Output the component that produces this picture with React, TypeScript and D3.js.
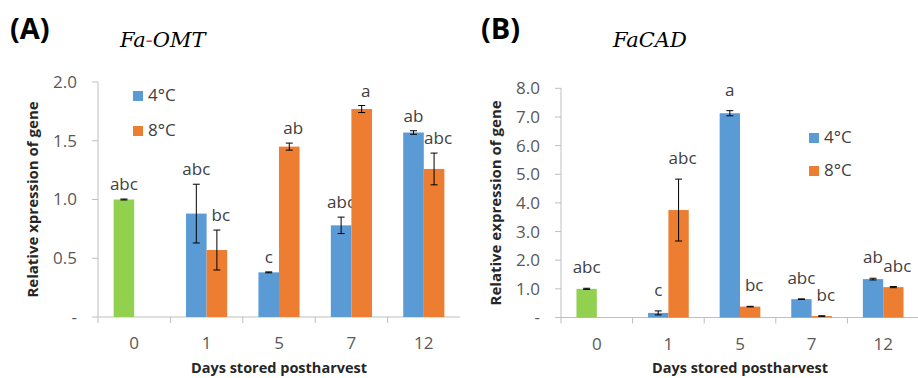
import React, { useEffect, useRef } from "react";
import * as d3 from "d3";

// categories
const days = ["0", "1", "5", "7", "12"];
const seriesNames = ["4°C", "8°C"];

// (A) Fa-OMT
const omtControl = [1.0, null, null, null, null];
const omtControlErr = [0.004, null, null, null, null];
const omt4 = [null, 0.88, 0.38, 0.78, 1.57];
const omt4Err = [null, 0.25, 0.004, 0.07, 0.015];
const omt8 = [null, 0.57, 1.45, 1.77, 1.26];
const omt8Err = [null, 0.17, 0.03, 0.03, 0.135];
const omtControlLetters = ["abc", "", "", "", ""];
const omt4Letters = ["", "abc", "c", "abc", "ab"];
const omt8Letters = ["", "bc", "ab", "a", "abc"];
const omtTicks = [0, 0.5, 1.0, 1.5, 2.0];

// (B) FaCAD
const cadControl = [1.0, null, null, null, null];
const cadControlErr = [0.02, null, null, null, null];
const cad4 = [null, 0.16, 7.13, 0.64, 1.34];
const cad4Err = [null, 0.07, 0.09, 0.01, 0.03];
const cad8 = [null, 3.75, 0.38, 0.05, 1.06];
const cad8Err = [null, 1.08, 0.01, 0.01, 0.02];
const cadControlLetters = ["abc", "", "", "", ""];
const cad4Letters = ["", "c", "a", "abc", "ab"];
const cad8Letters = ["", "abc", "bc", "bc", "abc"];
const cadTicks = [0, 1, 2, 3, 4, 5, 6, 7, 8];

const BLUE = "#5B9BD5";
const ORANGE = "#ED7D31";
const GREEN = "#92D050";
const AXIS = "#BFBFBF";
const TXT = "#404040";
const FONT = "'Open Sans', sans-serif";

const App: React.FC = () => {
  const ref = useRef<SVGSVGElement | null>(null);

  useEffect(() => {
    const svg = d3.select(ref.current);
    svg.selectAll("*").remove();

    const drawPanel = (p: any) => {
      const g = svg.append("g");

      const x = d3.scaleBand().domain(days).range([p.x0, p.x1]).paddingInner(0).paddingOuter(0);
      const sub = d3.scaleBand().domain(seriesNames).range([0, x.bandwidth()]).paddingInner(0).paddingOuter(0.76);
      const y = d3.scaleLinear().domain([0, p.max]).range([p.y0, p.y1]);

      // y axis
      g.append("line")
        .attr("x1", p.x0).attr("x2", p.x0)
        .attr("y1", y(0)).attr("y2", y(p.max))
        .attr("stroke", AXIS).attr("stroke-width", 1);
      p.ticks.forEach((t: number) => {
        g.append("line")
          .attr("x1", p.x0 - 6).attr("x2", p.x0)
          .attr("y1", y(t)).attr("y2", y(t))
          .attr("stroke", AXIS);
        g.append("text")
          .attr("x", p.x0 - 21).attr("y", y(t))
          .attr("dy", "0.35em")
          .attr("text-anchor", "end")
          .attr("font-family", FONT).attr("font-size", 17)
          .attr("fill", "#595959")
          .text(t === 0 ? "-" : d3.format(".1f")(t));
      });

      // x axis
      g.append("line")
        .attr("x1", p.x0).attr("x2", p.x1)
        .attr("y1", y(0)).attr("y2", y(0))
        .attr("stroke", AXIS);
      days.forEach((d) => {
        const bx = x(d) as number;
        g.append("line")
          .attr("x1", bx).attr("x2", bx)
          .attr("y1", y(0)).attr("y2", y(0) + 6)
          .attr("stroke", AXIS);
        g.append("text")
          .attr("x", bx + x.bandwidth() / 2).attr("y", y(0) + 32)
          .attr("text-anchor", "middle")
          .attr("font-family", FONT).attr("font-size", 17)
          .attr("fill", "#595959")
          .text(d);
      });

      // bars + error bars + letters
      const series = [
        { key: "4°C", vals: p.control, errs: p.controlErr, letters: p.controlLetters, color: GREEN, nudge: 0 },
        { key: "4°C", vals: p.s4, errs: p.s4Err, letters: p.s4Letters, color: BLUE, nudge: 0 },
        { key: "8°C", vals: p.s8, errs: p.s8Err, letters: p.s8Letters, color: ORANGE, nudge: 4 },
      ];
      series.forEach((s) => {
        days.forEach((d, i) => {
          const v = s.vals[i];
          if (v == null) return;
          const bx = (x(d) as number) + (sub(s.key) as number);
          const bw = sub.bandwidth();
          g.append("rect")
            .attr("x", bx).attr("y", y(v))
            .attr("width", bw).attr("height", y(0) - y(v))
            .attr("fill", s.color);
          const e = s.errs[i] || 0;
          const cx = bx + bw / 2;
          g.append("line")
            .attr("x1", cx).attr("x2", cx)
            .attr("y1", y(v + e)).attr("y2", y(Math.max(0, v - e)))
            .attr("stroke", "#000").attr("stroke-width", 1);
          [v + e, Math.max(0, v - e)].forEach((ev) => {
            g.append("line")
              .attr("x1", cx - 3.5).attr("x2", cx + 3.5)
              .attr("y1", y(ev)).attr("y2", y(ev))
              .attr("stroke", "#000").attr("stroke-width", 1);
          });
          if (s.letters[i]) {
            g.append("text")
              .attr("x", cx + s.nudge).attr("y", y(v + e) - p.gap)
              .attr("text-anchor", "middle")
              .attr("font-family", FONT).attr("font-size", 17)
              .attr("fill", TXT)
              .text(s.letters[i]);
          }
        });
      });

      // legend
      [BLUE, ORANGE].forEach((c, i) => {
        g.append("rect")
          .attr("x", p.legX).attr("y", p.legY + i * p.legGap)
          .attr("width", 10).attr("height", 10)
          .attr("fill", c);
        g.append("text")
          .attr("x", p.legX + 15).attr("y", p.legY + i * p.legGap + 10)
          .attr("font-family", FONT).attr("font-size", 17)
          .attr("fill", TXT)
          .text(seriesNames[i]);
      });

      // axis titles
      g.append("text")
        .attr("transform", `translate(${p.yLabX},${(y(0) + y(p.max)) / 2}) rotate(-90)`)
        .attr("text-anchor", "middle")
        .attr("font-family", FONT).attr("font-weight", "bold").attr("font-size", 15)
        .attr("fill", "#262626")
        .text(p.yLabel);
      g.append("text")
        .attr("x", (p.x0 + p.x1) / 2).attr("y", 373)
        .attr("text-anchor", "middle")
        .attr("font-family", FONT).attr("font-weight", "bold").attr("font-size", 14.5)
        .attr("fill", "#262626")
        .text("Days stored postharvest");

      // panel letter + gene title
      g.append("text")
        .attr("x", p.tagX).attr("y", 39)
        .attr("font-family", FONT).attr("font-weight", "bold").attr("font-size", 29)
        .attr("fill", "#000")
        .text(p.tag);
      const title = g.append("text")
        .attr("x", p.titleX).attr("y", 47)
        .attr("font-family", "'DejaVu Serif', serif").attr("font-style", "italic").attr("font-size", 21)
        .attr("fill", "#000");
      p.title.forEach((t: any) => {
        title.append("tspan").attr("fill", t.c).text(t.s);
      });
    };

    drawPanel({
      x0: 98, x1: 460, y0: 317, y1: 82, max: 2.0, ticks: omtTicks,
      control: omtControl, controlErr: omtControlErr, controlLetters: omtControlLetters,
      s4: omt4, s4Err: omt4Err, s4Letters: omt4Letters,
      s8: omt8, s8Err: omt8Err, s8Letters: omt8Letters,
      gap: 9, legX: 133, legY: 91, legGap: 35,
      yLabX: 38, yLabel: "Relative xpression of gene",
      tag: "(A)", tagX: 10, titleX: 120,
      title: [{ s: "Fa", c: "#000" }, { s: "-", c: "#E03030" }, { s: "OMT", c: "#000" }],
    });
    drawPanel({
      x0: 561, x1: 919, y0: 317.5, y1: 88.3, max: 8.0, ticks: cadTicks,
      control: cadControl, controlErr: cadControlErr, controlLetters: cadControlLetters,
      s4: cad4, s4Err: cad4Err, s4Letters: cad4Letters,
      s8: cad8, s8Err: cad8Err, s8Letters: cad8Letters,
      gap: 15, legX: 809, legY: 133, legGap: 33,
      yLabX: 501, yLabel: "Relative expression of gene",
      tag: "(B)", tagX: 481, titleX: 613,
      title: [{ s: "FaCAD", c: "#000" }],
    });
  }, []);

  return (
    <svg
      ref={ref}
      width={918}
      height={378}
      style={{ position: "absolute", left: 0, top: 0, background: "#fff" }}
    />
  );
};

export default App;
